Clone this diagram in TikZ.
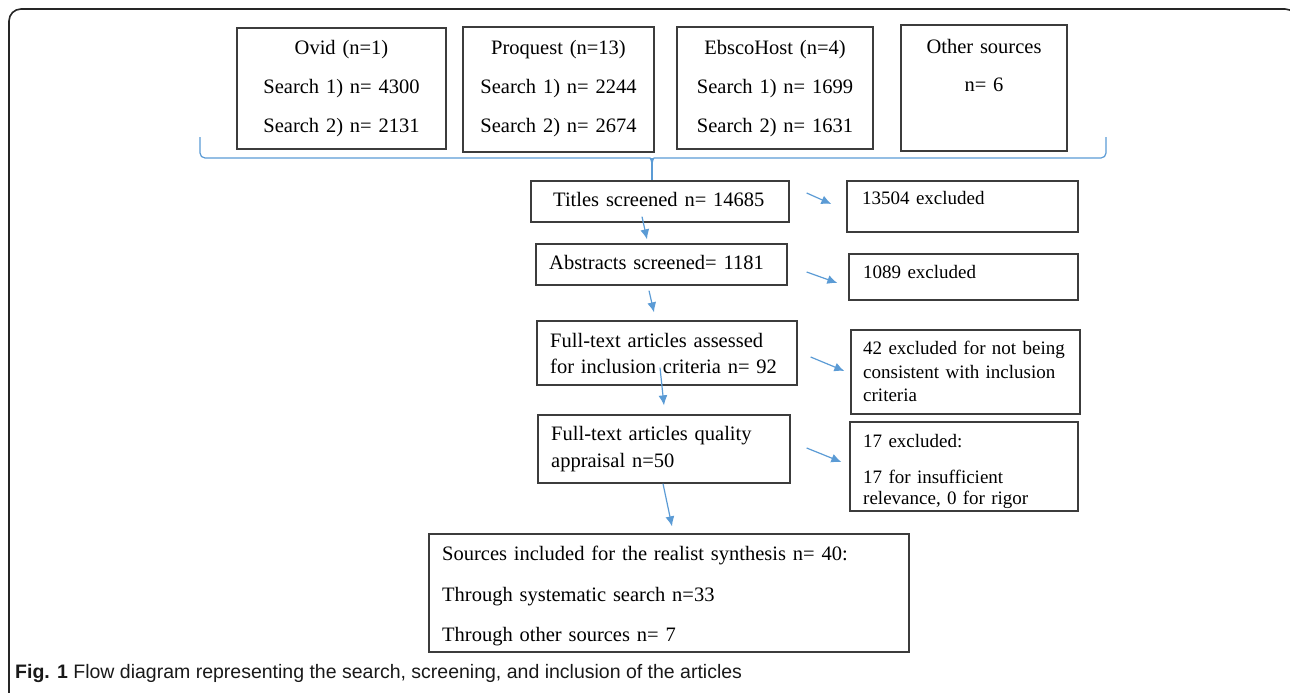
\documentclass[tikz,border=0pt]{standalone}
\usepackage{fontspec}
\setmainfont{Liberation Serif}
\newfontfamily\capfont{Liberation Sans}
\usetikzlibrary{arrows.meta,calc}
\definecolor{flowblue}{RGB}{91,155,213}
\definecolor{boxgray}{RGB}{60,60,60}

\begin{document}
\begin{tikzpicture}[x=1pt,y=-1pt,
    box/.style={draw=boxgray,line width=1.3pt,inner sep=0pt},
    txt/.style={inner sep=0pt,anchor=base west,text width=330pt,align=left,font=\fontsize{20.5}{23}\selectfont},
    extxt/.style={txt,font=\fontsize{19}{23}\selectfont},
    toptxt/.style={inner sep=0pt,anchor=base,text width=200pt,align=center,font=\fontsize{20.5}{39}\selectfont},
    arr/.style={draw=flowblue,line width=1.2pt,-{Latex[length=10pt,width=9pt]}},
    brace/.style={draw=flowblue,line width=1.2pt,rounded corners=5pt}]
    \useasboundingbox (0,0) rectangle (1290,693);
    \clip (0,0) rectangle (1290,693);

    % Frame
    \draw[black!85,line width=1.6pt,rounded corners=12pt] (9,720) -- (9,9) -- (1297,9) -- (1297,720);

    % Sources searched
    \node[box,minimum width=209pt,minimum height=121pt] (ovid) at (341.5,88.5) {};
    \node[toptxt] (ovid-t) at (341.5,55) {Ovid (n=1)\\Search 1) n= 4300\\Search 2) n= 2131};
    \node[box,minimum width=191pt,minimum height=125pt] (proquest) at (558.5,89.5) {};
    \node[toptxt] (proquest-t) at (558.5,55) {Proquest (n=13)\\Search 1) n= 2244\\Search 2) n= 2674};
    \node[box,minimum width=196pt,minimum height=122pt] (ebsco) at (775,88) {};
    \node[toptxt] (ebsco-t) at (775,55) {EbscoHost (n=4)\\Search 1) n= 1699\\Search 2) n= 1631};
    \node[box,minimum width=166pt,minimum height=126pt] (other) at (984,88) {};
    \node[toptxt] (other-t) at (984,53) {Other sources\\n= 6};

    % Brace
    \coordinate (bracetip) at (652,158);
    \draw[brace] (200,137) -- (200,158) -- (645,158) .. controls (650,158) and (652,160) .. (652,166);
    \draw[brace] (1106,137) -- (1106,158) -- (659,158) .. controls (654,158) and (652,160) .. (652,166);

    % Screening
    \node[box,minimum width=258pt,minimum height=41pt] (titles) at (660,201.5) {};
    \node[txt] (titles-t) at (553,206) {Titles screened n= 14685};
    \node[box,minimum width=251pt,minimum height=41pt] (abstracts) at (661.5,264.5) {};
    \node[txt] (abstracts-t) at (549,269) {Abstracts screened= 1181};
    \node[box,minimum width=260pt,minimum height=64pt] (fulltext) at (667,353) {};
    \node[txt] (fulltext-t) at (550,347) {Full-text articles assessed\\[3pt]for inclusion criteria n= 92};
    \node[box,minimum width=252pt,minimum height=68pt] (quality) at (664,449) {};
    \node[txt] (quality-t) at (551,440) {Full-text articles quality\\[4pt]appraisal n=50};
    \node[box,minimum width=480pt,minimum height=118pt] (sources) at (669,593) {};
    \node[txt,text width=460pt] (sources-t) at (442,560) {Sources included for the realist synthesis n= 40:\\[18pt]Through systematic search n=33\\[17pt]Through other sources n= 7};
    \draw[flowblue,line width=1.2pt] (bracetip) -- (bracetip |- titles.north);

    % Exclusions
    \node[box,minimum width=231pt,minimum height=51pt] (ex1) at (962.5,206.5) {};
    \node[extxt] (ex1-t) at (862,204) {13504 excluded};
    \node[box,minimum width=229pt,minimum height=46pt] (ex2) at (963.5,277) {};
    \node[extxt] (ex2-t) at (863,278) {1089 excluded};
    \node[box,minimum width=229pt,minimum height=84pt] (ex3) at (965.5,372) {};
    \node[extxt] (ex3-t) at (863,354) {42 excluded for not being\\[1pt]consistent with inclusion\\criteria};
    \node[box,minimum width=228pt,minimum height=89pt] (ex4) at (964,466.5) {};
    \node[extxt] (ex4-t) at (863,447) {17 excluded:\\[13pt]17 for insufficient\\[-2pt]relevance, 0 for rigor};

    % Arrows down
    \draw[arr] ($(titles.south)+(-18,-6)$) -- ($(abstracts.north)+(-14.5,-4)$);
    \draw[arr] ($(abstracts.south)+(-12.5,5)$) -- ($(fulltext.north)+(-13,-8)$);
    \draw[arr] ($(fulltext.south)+(-7,-18)$) -- ($(quality.north)+(0,-9)$);
    \draw[arr] ($(quality.south)+(-1,0)$) -- ($(sources.north)+(3,-7)$);

    % Arrows right
    \draw[arr] ($(titles.east)+(17,-8.5)$) -- ($(ex1.west)+(-15,-2.5)$);
    \draw[arr] ($(abstracts.east)+(19,7.5)$) -- ($(ex2.west)+(-11,6)$);
    \draw[arr] ($(fulltext.east)+(13,4)$) -- ($(ex3.west)+(-6,-1)$);
    \draw[arr] ($(quality.east)+(16,-1)$) -- ($(ex4.west)+(-8,-4.5)$);

    % Caption
    \node[anchor=base west,inner sep=0pt,text=black!90,font=\capfont\fontsize{19.5}{21}\selectfont] (caption) at (15,678)
        {\textbf{Fig. 1} Flow diagram representing the search, screening, and inclusion of the articles};
\end{tikzpicture}
\end{document}
